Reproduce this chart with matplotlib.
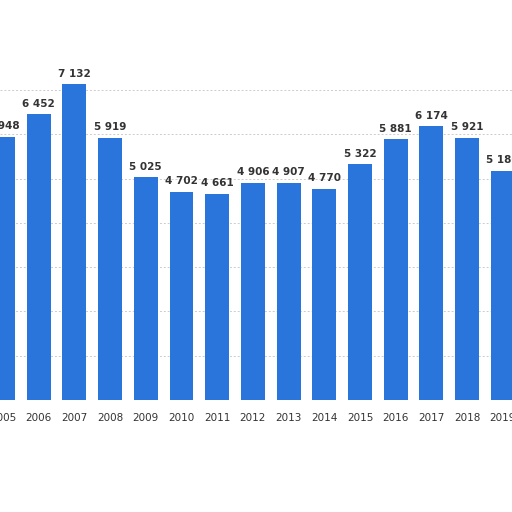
import matplotlib.pyplot as plt
import numpy as np

years = list(range(2005, 2020))
values = [5948, 6452, 7132, 5919, 5025, 4702, 4661, 4906, 4907, 4770, 5322, 5881, 6174, 5921, 5180]

fig = plt.figure(figsize=(5.12, 5.12), dpi=100)
ax = fig.add_axes([0, 0, 1, 1])

ax.bar(years, values, width=0.67, color='#2a75dc', zorder=2)

for yr, v in zip(years, values):
    lbl = f"{v:,}".replace(",", " ")
    ax.text(yr, v + 120, lbl, ha='center', va='bottom', fontsize=7.5,
            fontweight='bold', color='#333333', zorder=3)
    ax.text(yr, -400, str(yr), ha='center', va='center', fontsize=7.5, color='#333333')

for g in range(1000, 8000, 1000):
    ax.axhline(g, color='#cccccc', linestyle=(0, (2, 2)), linewidth=0.7, zorder=1)

left = 2005 - 3 / 35.7
ax.set_xlim(left, left + 512 / 35.7)
ax.set_ylim(-112 / 44.3 * 1000, 400 / 44.3 * 1000)
ax.axis('off')

fig.savefig('out.png', dpi=100, facecolor='white')
